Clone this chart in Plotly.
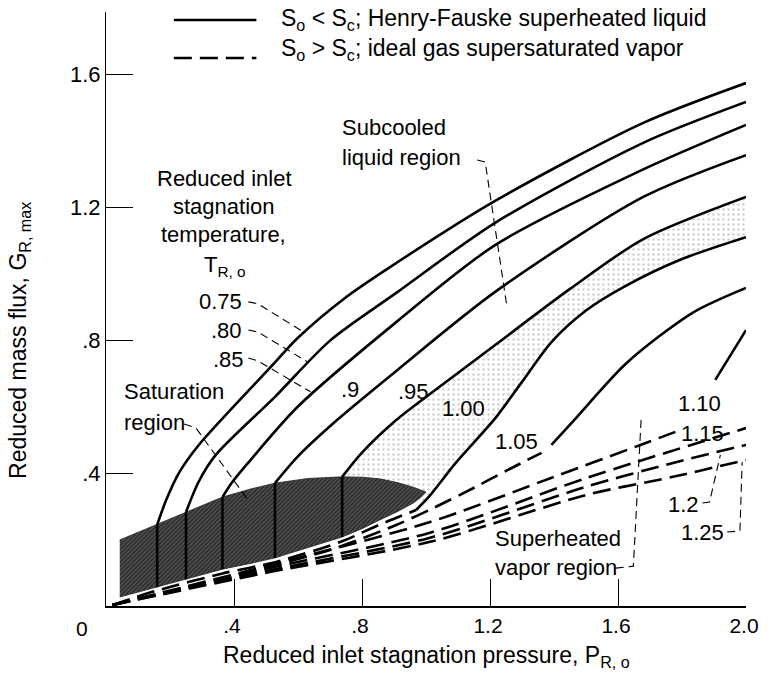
import plotly.graph_objects as go

FONT = "Liberation Sans, Arial, sans-serif"

# isotherms of reduced inlet stagnation temperature, T_R,o  (P_R,o, G_R,max)
# solid branches: S_o < S_c (Henry-Fauske superheated liquid)
P_075 = [0.160, 0.188, 0.228, 0.290, 0.515, 0.599, 0.750, 0.907, 1.216, 1.679, 2.0]
G_075 = [0.245, 0.319, 0.401, 0.485, 0.720, 0.807, 0.930, 1.033, 1.220, 1.455, 1.575]
P_080 = [0.250, 0.290, 0.343, 0.528, 0.701, 0.907, 1.216, 1.679, 2.0]
G_080 = [0.283, 0.375, 0.455, 0.630, 0.800, 0.943, 1.154, 1.395, 1.518]
P_085 = [0.364, 0.392, 0.444, 0.599, 0.907, 1.216, 1.679, 2.0]
G_085 = [0.328, 0.370, 0.431, 0.600, 0.855, 1.087, 1.315, 1.449]
P_090 = [0.528, 0.599, 0.722, 0.907, 1.216, 1.679, 2.0]
G_090 = [0.370, 0.450, 0.560, 0.708, 0.946, 1.232, 1.358]
P_095 = [0.738, 0.800, 0.907, 1.009, 1.216, 1.450, 1.679, 2.0]
G_095 = [0.389, 0.462, 0.560, 0.636, 0.786, 0.955, 1.105, 1.232]
P_100 = [0.969, 1.010, 1.093, 1.216, 1.300, 1.392, 1.500, 1.620, 1.800, 2.0]
G_100 = [0.289, 0.330, 0.431, 0.565, 0.675, 0.795, 0.890, 0.962, 1.045, 1.111]
P_105 = [1.392, 1.463, 1.627, 1.833, 2.0]
G_105 = [0.485, 0.560, 0.732, 0.883, 0.958]
P_110 = [1.904, 2.0]
G_110 = [0.681, 0.831]

# dashed branches: S_o > S_c (ideal gas supersaturated vapor)
PD_100 = [0.020, 0.154, 0.364, 0.528, 0.738, 0.855, 0.969]
GD_100 = [0.003, 0.045, 0.098, 0.132, 0.195, 0.245, 0.289]
PD_105 = [0.020, 0.300, 0.700, 0.907, 1.010, 1.154, 1.256, 1.361]
GD_105 = [0.003, 0.068, 0.169, 0.244, 0.289, 0.358, 0.410, 0.461]
PD_110 = [0.020, 0.500, 1.010, 1.400, 1.670, 1.800]
GD_110 = [0.003, 0.120, 0.252, 0.389, 0.485, 0.532]
PD_115 = [0.020, 0.500, 1.010, 1.500, 2.0]
GD_115 = [0.003, 0.112, 0.220, 0.385, 0.536]
PD_120 = [0.020, 0.500, 1.010, 1.503, 1.772, 2.0]
GD_120 = [0.003, 0.105, 0.205, 0.360, 0.431, 0.485]
PD_125 = [0.020, 0.500, 1.020, 1.503, 1.772, 2.0]
GD_125 = [0.003, 0.100, 0.195, 0.335, 0.389, 0.440]

# saturation region (dome) outline
SAT_TOP_P = [0.043, 0.100, 0.160, 0.250, 0.364, 0.450, 0.528, 0.630, 0.738, 0.800, 0.855, 0.910, 0.960, 1.0]
SAT_TOP_G = [0.199, 0.222, 0.245, 0.283, 0.328, 0.352, 0.370, 0.384, 0.389, 0.388, 0.383, 0.372, 0.358, 0.343]
SAT_BOT_P = [0.985, 0.960, 0.910, 0.855, 0.800, 0.738, 0.630, 0.528, 0.450, 0.364, 0.250, 0.154, 0.100, 0.043]
SAT_BOT_G = [0.328, 0.310, 0.284, 0.259, 0.233, 0.208, 0.175, 0.145, 0.128, 0.111, 0.081, 0.057, 0.043, 0.027]

# isotherms inside the saturation region (constant pressure)
VERT_P = [0.160, 0.250, 0.364, 0.528, 0.738]
VERT_TOP = [0.245, 0.283, 0.328, 0.370, 0.389]
VERT_BOT = [0.057, 0.081, 0.111, 0.145, 0.208]

# leader lines
LEAD_075 = ([0.445, 0.475, 0.623], [0.916, 0.910, 0.822])
LEAD_080 = ([0.445, 0.475, 0.630], [0.831, 0.825, 0.735])
LEAD_085 = ([0.445, 0.475, 0.639], [0.747, 0.738, 0.645])
LEAD_SAT = ([0.244, 0.281, 0.444], [0.548, 0.536, 0.319])
LEAD_SUB = ([1.160, 1.185, 1.253], [1.343, 1.337, 0.901])
LEAD_SUP = ([1.593, 1.648, 1.673], [0.114, 0.120, 0.575])
LEAD_120 = ([1.864, 1.886, 1.920], [0.310, 0.313, 0.455])
LEAD_125 = ([1.941, 1.981, 1.988], [0.223, 0.226, 0.434])

X_TICKS = [0.4, 0.8, 1.2, 1.6, 2.0]
X_TICK_TEXT = [".4", ".8", "1.2", "1.6", "2.0"]
Y_TICKS = [0.4, 0.8, 1.2, 1.6]
Y_TICK_TEXT = [".4", ".8", "1.2", "1.6"]

fig = go.Figure()

# light stipple between the .95 and 1.00 isotherms
band_p = P_095 + P_100[::-1] + [1.0]
band_g = G_095 + G_100[::-1] + [0.343]
fig.add_trace(go.Scatter(
    x=band_p, y=band_g, mode="lines", fill="toself", line=dict(width=0),
    fillcolor="rgba(0,0,0,0)",
    fillpattern=dict(shape=".", fgcolor="#9a9a9a", size=5, solidity=0.18),
    hoverinfo="skip",
))

# saturation region
fig.add_trace(go.Scatter(
    x=SAT_TOP_P + SAT_BOT_P, y=SAT_TOP_G + SAT_BOT_G, mode="lines", fill="toself",
    line=dict(width=0.8, color="#222222"),
    fillpattern=dict(shape="/", fgcolor="#000000", bgcolor="#555555", size=3, solidity=0.55),
    hoverinfo="skip",
))

vx, vy = [], []
for p, top, bot in zip(VERT_P, VERT_TOP, VERT_BOT):
    vx += [p, p, None]
    vy += [bot, top, None]
fig.add_trace(go.Scatter(x=vx, y=vy, mode="lines", line=dict(color="black", width=2.6), hoverinfo="skip"))

solid = [(P_075, G_075), (P_080, G_080), (P_085, G_085), (P_090, G_090),
         (P_095, G_095), (P_100, G_100), (P_105, G_105), (P_110, G_110)]
for px_, gy in solid:
    fig.add_trace(go.Scatter(x=px_, y=gy, mode="lines",
                             line=dict(color="black", width=2.6, shape="spline", smoothing=0.8),
                             hoverinfo="skip"))

dashed = [(PD_100, GD_100), (PD_105, GD_105), (PD_110, GD_110),
          (PD_115, GD_115), (PD_120, GD_120), (PD_125, GD_125)]
for px_, gy in dashed:
    fig.add_trace(go.Scatter(x=px_, y=gy, mode="lines",
                             line=dict(color="black", width=2.6, dash="18px,8px", shape="spline", smoothing=0.8),
                             hoverinfo="skip"))

for lp, lg in [LEAD_075, LEAD_080, LEAD_085, LEAD_SAT, LEAD_SUB, LEAD_SUP, LEAD_120, LEAD_125]:
    fig.add_trace(go.Scatter(x=lp, y=lg, mode="lines",
                             line=dict(color="black", width=1.1, dash="8px,5px"),
                             hoverinfo="skip"))

labels = [
    ("Reduced inlet", 0.370, 1.289, "center"),
    ("stagnation", 0.370, 1.202, "center"),
    ("temperature,", 0.367, 1.120, "center"),
    ("T<sub>R, o</sub>", 0.372, 1.025, "center"),
    ("0.75", 0.432, 0.916, "right"),
    (".80", 0.432, 0.831, "right"),
    (".85", 0.437, 0.741, "right"),
    ("Saturation", 0.049, 0.645, "left"),
    ("region", 0.049, 0.554, "left"),
    (".9", 0.762, 0.651, "center"),
    (".95", 0.960, 0.645, "center"),
    ("1.00", 1.117, 0.595, "center"),
    ("1.05", 1.284, 0.494, "center"),
    ("1.10", 1.855, 0.611, "center"),
    ("1.15", 1.864, 0.521, "center"),
    ("1.2", 1.860, 0.307, "right"),
    ("1.25", 1.937, 0.220, "right"),
    ("Subcooled", 0.731, 1.440, "left"),
    ("liquid region", 0.731, 1.352, "left"),
    ("Superheated", 1.210, 0.202, "left"),
    ("vapor region", 1.210, 0.117, "left"),
]
annotations = [
    dict(text=t, x=x, y=y, xanchor=a, yanchor="middle", showarrow=False,
         font=dict(size=22, color="black", family=FONT))
    for t, x, y, a in labels
]
annotations += [
    dict(text="0", x=0, y=0, xanchor="center", yanchor="middle", xshift=-24, yshift=-22,
         showarrow=False, font=dict(size=21, color="black", family=FONT)),
    dict(text="Reduced inlet stagnation pressure, P<sub>R, o</sub>", xref="paper", yref="paper",
         x=0.5, y=-0.085, xanchor="center", yanchor="middle", showarrow=False,
         font=dict(size=23, color="black", family=FONT)),
    dict(text="Reduced mass flux, G<sub>R, max</sub>", xref="paper", x=-0.135, y=0.80,
         xanchor="center", yanchor="middle", textangle=-90, showarrow=False,
         font=dict(size=23, color="black", family=FONT)),
    dict(text="S<sub>o</sub> &lt; S<sub>c</sub>; Henry-Fauske superheated liquid", xref="paper", yref="paper",
         x=0.27, y=0.987, xanchor="left", yanchor="middle", showarrow=False,
         font=dict(size=23, color="black", family=FONT)),
    dict(text="S<sub>o</sub> &gt; S<sub>c</sub>; ideal gas supersaturated vapor", xref="paper", yref="paper",
         x=0.27, y=0.937, xanchor="left", yanchor="middle", showarrow=False,
         font=dict(size=23, color="black", family=FONT)),
]

fig.update_layout(
    width=771, height=686,
    margin=dict(l=106, r=17, t=12, b=80),
    plot_bgcolor="white", paper_bgcolor="white",
    showlegend=False,
    font=dict(family=FONT, size=22, color="black"),
    annotations=annotations,
    shapes=[
        dict(type="line", xref="paper", yref="paper", x0=0.106, x1=0.235, y0=0.9865, y1=0.9865,
             line=dict(color="black", width=2.6)),
        dict(type="line", xref="paper", yref="paper", x0=0.106, x1=0.235, y0=0.9226, y1=0.9226,
             line=dict(color="black", width=2.6, dash="18px,8px")),
    ],
)
fig.update_xaxes(
    range=[0, 2.0], showgrid=False, zeroline=False, showline=True, linecolor="black", linewidth=2,
    ticks="inside", ticklen=27, tickwidth=1.2, tickcolor="black",
    tickvals=X_TICKS, ticktext=X_TICK_TEXT, tickfont=dict(size=21, family=FONT),
    ticklabelshift=-2,
)
fig.update_yaxes(
    range=[0, 1.789], showgrid=False, zeroline=False, showline=True, linecolor="black", linewidth=1,
    ticks="inside", ticklen=27, tickwidth=1.2, tickcolor="black",
    tickvals=Y_TICKS, ticktext=Y_TICK_TEXT, tickfont=dict(size=22, family=FONT),
)

# the page's default body margin would push the figure off the window edge
fig.write_html("out.html", config={"displayModeBar": False},
               post_script="document.body.style.margin = '0';")
